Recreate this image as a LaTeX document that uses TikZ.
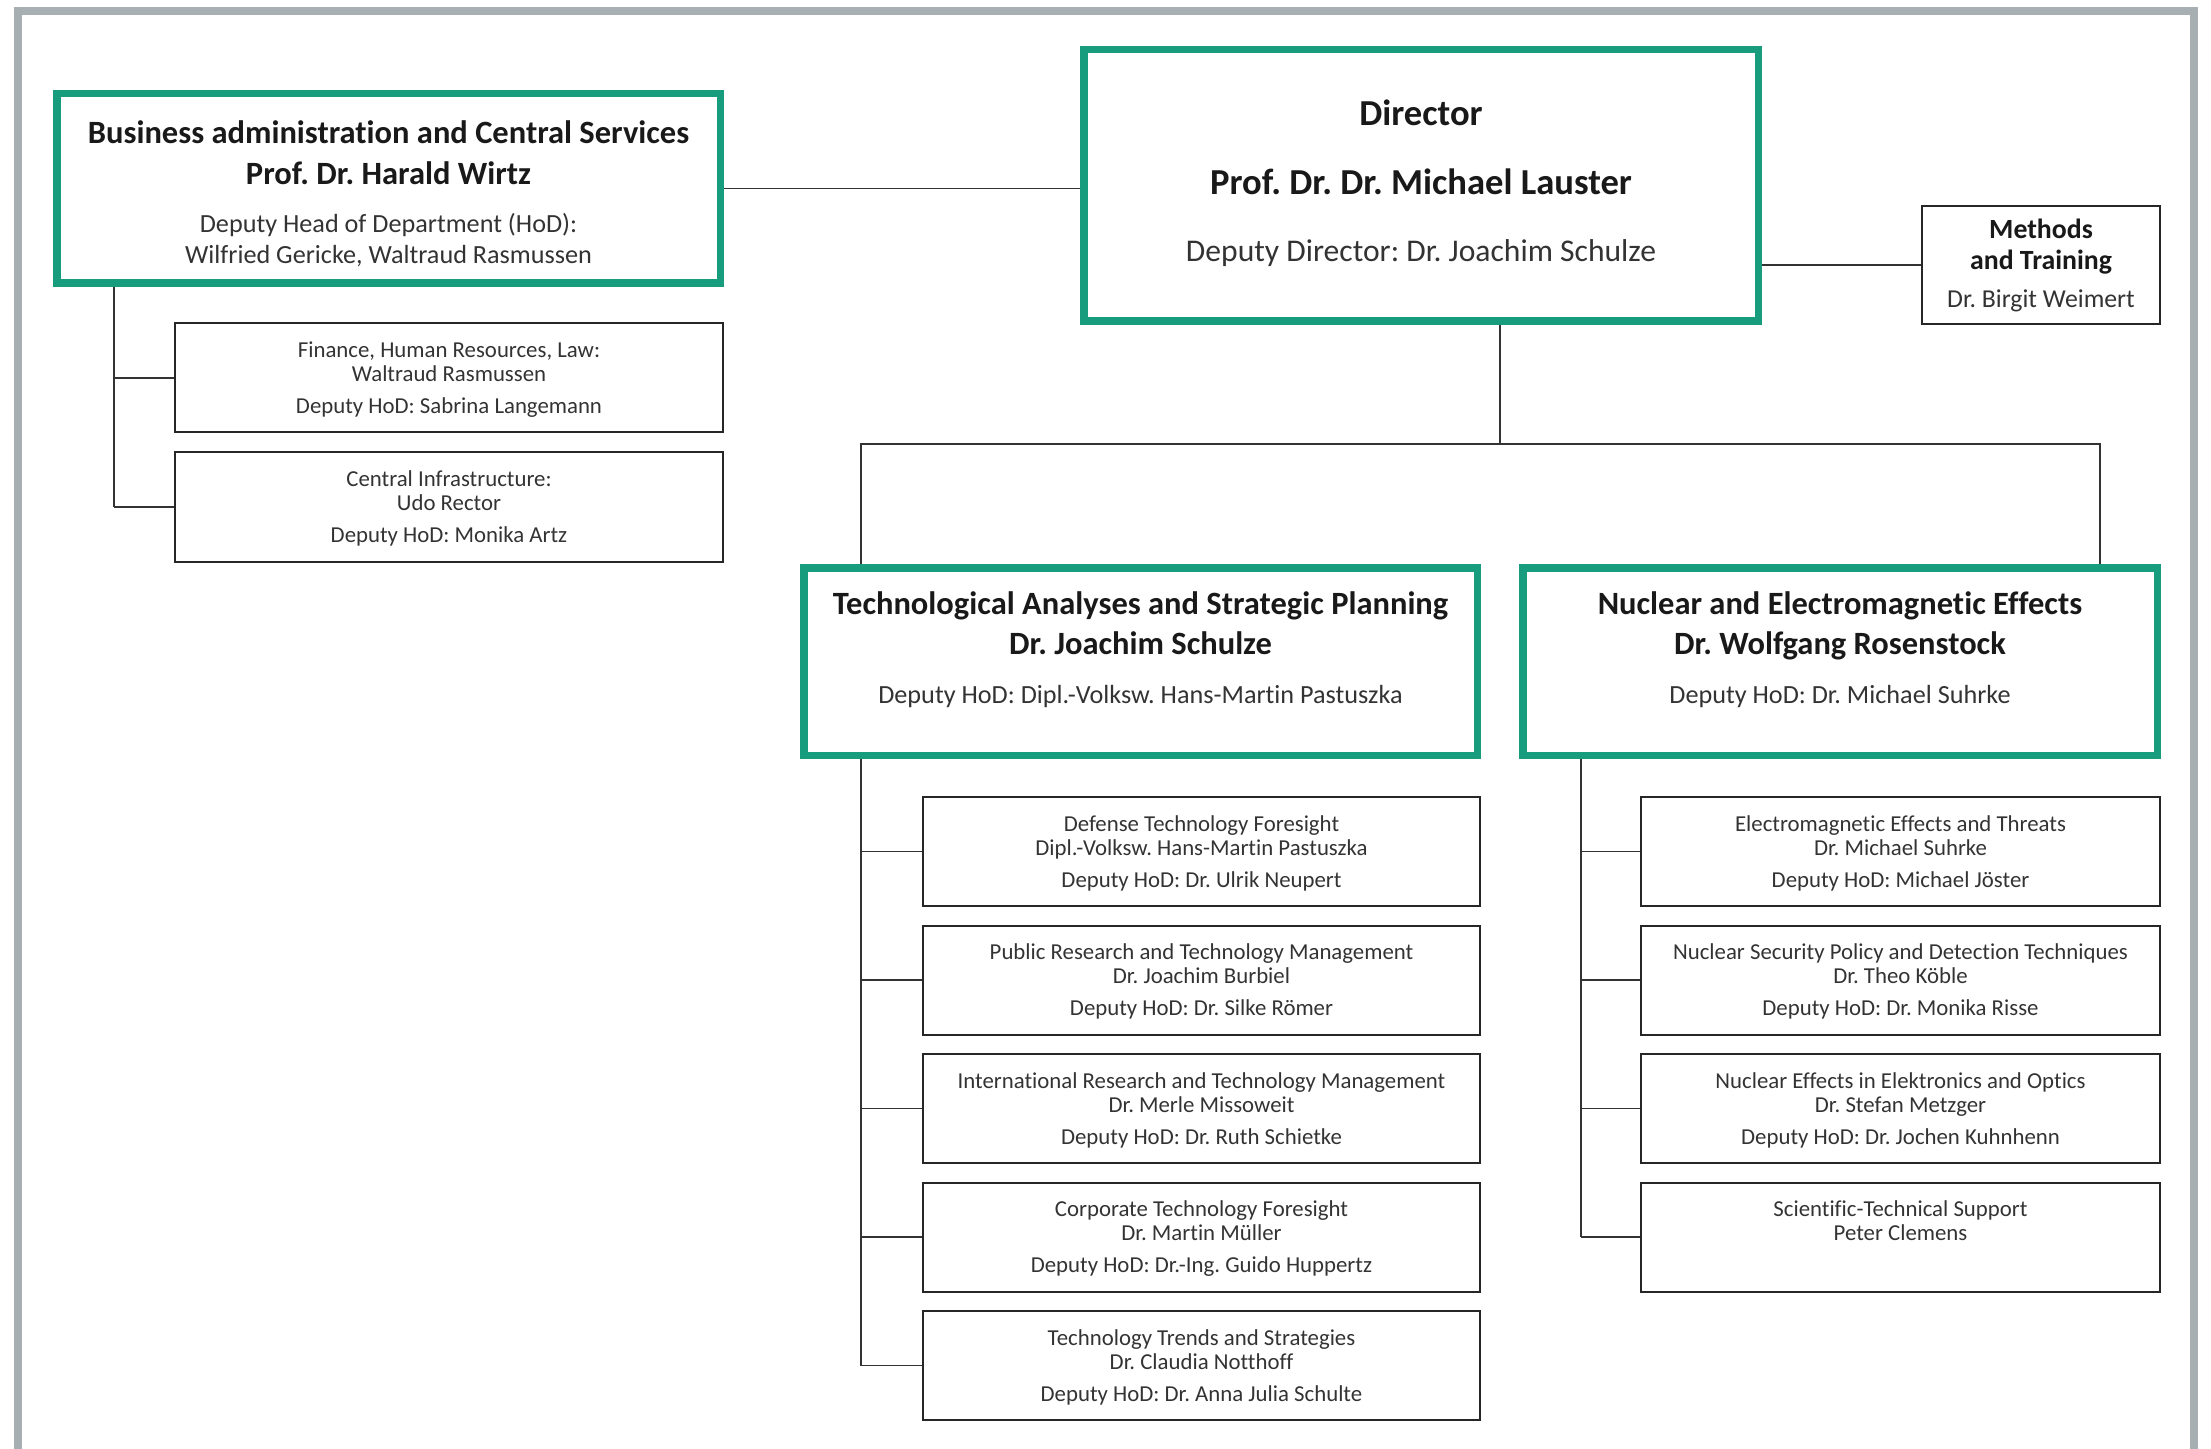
\documentclass[tikz,border=0pt]{standalone}
\usepackage{fontspec}
\setmainfont{Carlito}[Ligatures=NoCommon]
\frenchspacing
\definecolor{intgreen}{HTML}{179C7D}
\definecolor{framegray}{HTML}{A8AFB3}
\newcommand\orgrow[1]{\hbox{\smash{\makebox[0pt]{#1}}}}
\newcommand\orgtext[1]{\vtop{\offinterlineskip#1}}
\newcommand\subunit[3]{\orgtext{\orgrow{#1}\kern12pt\orgrow{#2}\kern16pt\orgrow{#3}}}
\newcommand\headfont{\fontsize{16.25}{19}\selectfont\bfseries\color{black!90}}
\newcommand\deputyfont{\fontsize{13.1}{15}\selectfont\color{black!80}}
\newcommand\dirfont{\fontsize{18.3}{21}\selectfont\bfseries\color{black!90}}
\tikzset{
  headbox/.style={draw=intgreen, line width=3.75pt, inner sep=0pt, text height=0pt},
  unitbox/.style={draw=black!85, line width=1pt, inner sep=0pt, text height=0pt,
    text depth=20.5pt, minimum height=54.5pt, text=black!80,
    font=\fontsize{11.4}{13}\selectfont},
  link/.style={black!80, line width=0.8pt},
  frame/.style={framegray, line width=4pt}
}
\begin{document}
\begin{tikzpicture}[x=0.5pt, y=-0.5pt]
\useasboundingbox (0,0) rectangle (2211,1449);
\draw[frame] (18,1449) -- (18,11) -- (2194,11) -- (2194,1449);

\node[headbox, minimum width=331.75pt, minimum height=94.75pt, text depth=44.5pt] (bas) at (388.5,188.5)
  {\orgtext{\orgrow{\headfont Business administration and Central Services}\kern20.5pt
  \orgrow{\headfont Prof. Dr. Harald Wirtz}\kern24pt
  \orgrow{\deputyfont Deputy Head of Department (HoD):}\kern15.5pt
  \orgrow{\deputyfont Wilfried Gericke, Waltraud Rasmussen}}};
\node[headbox, minimum width=337.25pt, minimum height=135.75pt, text depth=59.5pt] (dir) at (1421,185.5)
  {\orgtext{\orgrow{\dirfont Director}\kern34.5pt
  \orgrow{\dirfont Prof. Dr. Dr. Michael Lauster}\kern33.5pt
  \orgrow{\fontsize{15.8}{18}\selectfont\color{black!80}Deputy Director: Dr. Joachim Schulze}}};
\node[unitbox, minimum width=119pt, minimum height=59pt, text depth=26.5pt] (mt) at (2041,265)
  {\orgtext{\orgrow{\fontsize{13.9}{16}\selectfont\bfseries\color{black!90}Methods}\kern15.5pt
  \orgrow{\fontsize{13.9}{16}\selectfont\bfseries\color{black!90}and Training}\kern19pt
  \orgrow{\fontsize{12.9}{15}\selectfont Dr. Birgit Weimert}}};

\node[unitbox, minimum width=274pt] (fin) at (449,378)
  {\subunit{Finance, Human Resources, Law:}{Waltraud Rasmussen}{Deputy HoD: Sabrina Langemann}};
\node[unitbox, minimum width=274pt] (inf) at (449,507)
  {\subunit{Central Infrastructure:}{Udo Rector}{Deputy HoD: Monika Artz}};

\node[headbox, minimum width=336.75pt, minimum height=93.75pt, text depth=47.5pt] (tas) at (1140.5,661.5)
  {\orgtext{\orgrow{\headfont Technological Analyses and Strategic Planning}\kern20pt
  \orgrow{\headfont Dr. Joachim Schulze}\kern24.5pt
  \orgrow{\deputyfont Deputy HoD: Dipl.-Volksw. Hans-Martin Pastuszka}}};
\node[headbox, minimum width=317.25pt, minimum height=93.75pt, text depth=47.5pt] (nee) at (1840,661.5)
  {\orgtext{\orgrow{\headfont Nuclear and Electromagnetic Effects}\kern20pt
  \orgrow{\headfont Dr. Wolfgang Rosenstock}\kern24.5pt
  \orgrow{\deputyfont Deputy HoD: Dr. Michael Suhrke}}};

\node[unitbox, minimum width=278.5pt] (t1) at (1201.5,851.5)
  {\subunit{Defense Technology Foresight}{Dipl.-Volksw. Hans-Martin Pastuszka}{Deputy HoD: Dr. Ulrik Neupert}};
\node[unitbox, minimum width=278.5pt] (t2) at (1201.5,980)
  {\subunit{Public Research and Technology Management}{Dr. Joachim Burbiel}{Deputy HoD: Dr. Silke Römer}};
\node[unitbox, minimum width=278.5pt] (t3) at (1201.5,1108.5)
  {\subunit{International Research and Technology Management}{Dr. Merle Missoweit}{Deputy HoD: Dr. Ruth Schietke}};
\node[unitbox, minimum width=278.5pt] (t4) at (1201.5,1237)
  {\subunit{Corporate Technology Foresight}{Dr. Martin Müller}{Deputy HoD: Dr.-Ing. Guido Huppertz}};
\node[unitbox, minimum width=278.5pt] (t5) at (1201.5,1365.5)
  {\subunit{Technology Trends and Strategies}{Dr. Claudia Notthoff}{Deputy HoD: Dr. Anna Julia Schulte}};

\node[unitbox, minimum width=259.5pt] (n1) at (1900.5,851.5)
  {\subunit{Electromagnetic Effects and Threats}{Dr. Michael Suhrke}{Deputy HoD: Michael Jöster}};
\node[unitbox, minimum width=259.5pt] (n2) at (1900.5,980)
  {\subunit{Nuclear Security Policy and Detection Techniques}{Dr. Theo Köble}{Deputy HoD: Dr. Monika Risse}};
\node[unitbox, minimum width=259.5pt] (n3) at (1900.5,1108.5)
  {\subunit{Nuclear Effects in Elektronics and Optics}{Dr. Stefan Metzger}{Deputy HoD: Dr. Jochen Kuhnhenn}};
\node[unitbox, minimum width=259.5pt] (n4) at (1900.5,1237)
  {\subunit{Scientific-Technical Support}{Peter Clemens}{}};

\coordinate (hub) at (1500,444);
\coordinate (tbar) at (861,444);
\coordinate (nbar) at (2100,444);
\coordinate (bsp) at (114,0);
\coordinate (nsp) at (1581,0);

\draw[link] (bas.east) -- (bas.east -| dir.west);
\draw[link] (mt.west) -- (mt.west -| dir.east);
\draw[link] (dir.south -| hub) -- (hub);
\draw[link] (tas.north -| tbar) -- (tbar) -- (nbar) -- (nee.north -| nbar);

\draw[link] (bas.south -| bsp) -- (inf.west -| bsp);
\foreach \u in {fin,inf}
  \draw[link] (\u.west -| bsp) -- (\u.west);
\draw[link] (tas.south -| tbar) -- (t5.west -| tbar);
\foreach \i in {1,...,5}
  \draw[link] (t\i.west -| tbar) -- (t\i.west);
\draw[link] (nee.south -| nsp) -- (n4.west -| nsp);
\foreach \i in {1,...,4}
  \draw[link] (n\i.west -| nsp) -- (n\i.west);
\end{tikzpicture}
\end{document}
